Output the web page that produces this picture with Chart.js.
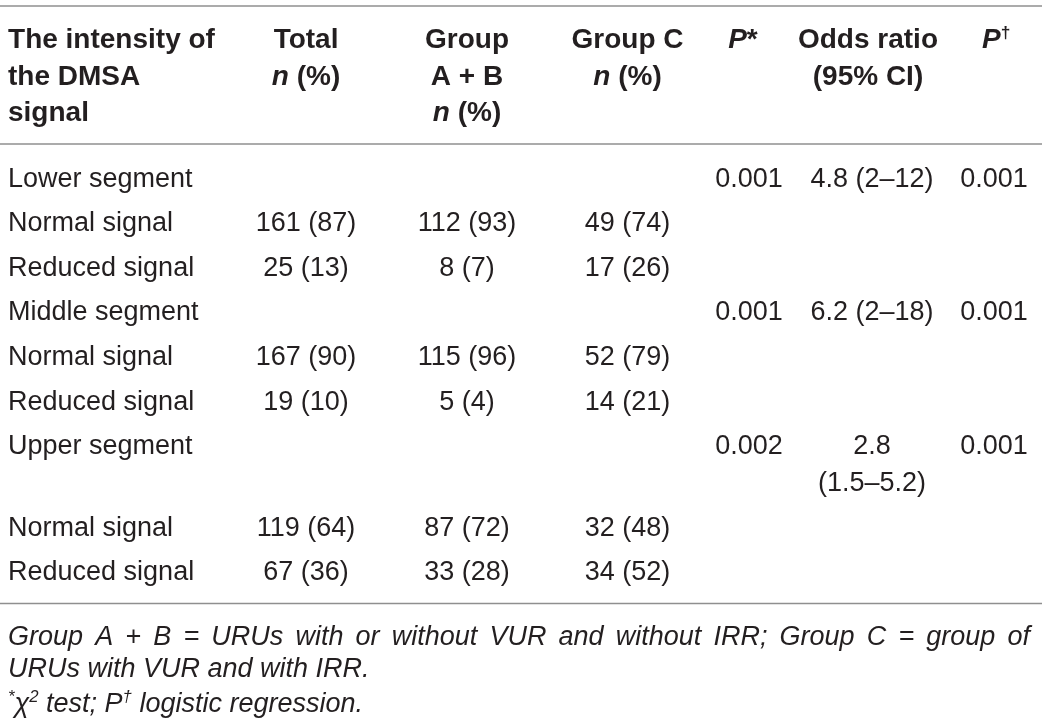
<!DOCTYPE html>
<html>
<head>
<meta charset="utf-8">
<title>Intensity of the DMSA signal by renal segment</title>
<script src="https://cdn.jsdelivr.net/npm/chart.js@4.4.1/dist/chart.umd.min.js"></script>
<style>
  html, body { margin: 0; padding: 0; background: #fff; }
  #wrap { width: 1042px; height: 725px; }
</style>
</head>
<body>
<div id="wrap"><canvas id="tableChart" width="1042" height="725"></canvas></div>
<script>
const segments = ["Lower segment", "Middle segment", "Upper segment"];
const signalLevels = ["Normal signal", "Reduced signal"];

// two values per segment: normal, reduced
const totalN = [161, 25, 167, 19, 119, 67];
const totalPct = [87, 13, 90, 10, 64, 36];
const groupAB_N = [112, 8, 115, 5, 87, 33];
const groupAB_Pct = [93, 7, 96, 4, 72, 28];
const groupC_N = [49, 17, 52, 14, 32, 34];
const groupC_Pct = [74, 26, 79, 21, 48, 52];

// one value per segment
const pChiSquare = [0.001, 0.001, 0.002];
const oddsRatio = [4.8, 6.2, 2.8];
const ciLower = [2, 2, 1.5];
const ciUpper = [12, 18, 5.2];
const pLogistic = [0.001, 0.001, 0.001];

// header lines per column (_x_ = italic, ^x = superscript)
const columnHeaders = [
  ["The intensity of", "the DMSA", "signal"],
  ["Total", "_n_ (%)"],
  ["Group", "A + B", "_n_ (%)"],
  ["Group C", "_n_ (%)"],
  ["_P_*"],
  ["Odds ratio", "(95% CI)"],
  ["_P_^\u2020"]
];

const footnotes = [
  "Group A + B = URUs with or without VUR and without IRR; Group C = group of URUs with VUR and with IRR.",
  "^*\u03C7^2 test; P^\u2020 logistic regression."
];

// ---- layout ----
const layout = {
  family: '"Liberation Sans", Arial, Helvetica, sans-serif',
  bodySize: 27,
  headSize: 28,
  noteSize: 27,
  ink: "#231f20",
  rule: "#8f8f8f",
  firstBaseline: 186.5, // px, first body row
  rowPitch: 44.6,       // px per row
  wrapPitch: 0.83,      // rows, extra line inside a cell
  colX: [0.77, 29.37, 44.82, 60.22, 71.88, 83.69, 95.39],   // % of width
  headX: [0.77, 29.37, 44.82, 60.22, 71.3, 83.3, 95.6],
  colAlign: ["left", "center", "center", "center", "center", "center", "center"],
  wrapWidth: [Infinity, Infinity, Infinity, Infinity, Infinity, 140, Infinity],
  headBaselines: [48.3, 84.8, 121.3],
  rules: [6, 144, 603.5],
  noteBaselines: [645, 677, 712],
  noteLeft: 8,
  noteWidth: 1022
};

const H = 725;
const toRows = px => (px - layout.firstBaseline) / layout.rowPitch;

// ---- build table rows ----
const fmtCount = (n, p) => n + " (" + p + ")";
const rows = [];
segments.forEach((seg, s) => {
  rows.push([seg, null, null, null,
    pChiSquare[s].toFixed(3),
    oddsRatio[s] + " (" + ciLower[s] + "\u2013" + ciUpper[s] + ")",
    pLogistic[s].toFixed(3)]);
  signalLevels.forEach((lvl, k) => {
    const i = s * 2 + k;
    rows.push([lvl,
      fmtCount(totalN[i], totalPct[i]),
      fmtCount(groupAB_N[i], groupAB_Pct[i]),
      fmtCount(groupC_N[i], groupC_Pct[i]),
      null, null, null]);
  });
});

const measureCtx = document.createElement("canvas").getContext("2d");
function bodyFont(size, italic, weight) {
  return (italic ? "italic " : "") + (weight || "normal") + " " + size + "px " + layout.family;
}

function wrapText(text, maxW) {
  measureCtx.font = bodyFont(layout.bodySize);
  if (measureCtx.measureText(text).width <= maxW) return [text];
  const words = text.split(" ");
  const lines = [];
  let cur = "";
  words.forEach(w => {
    const test = cur ? cur + " " + w : w;
    if (cur && measureCtx.measureText(test).width > maxW) {
      lines.push(cur);
      cur = w;
    } else {
      cur = test;
    }
  });
  if (cur) lines.push(cur);
  return lines;
}

// row positions, taller rows where a cell wraps
const rowPos = [];
let pos = 0;
rows.forEach((row, r) => {
  rowPos[r] = pos;
  let n = 1;
  row.forEach((txt, c) => {
    if (txt) n = Math.max(n, wrapText(txt, layout.wrapWidth[c]).length);
  });
  pos += 1 + (n - 1) * layout.wrapPitch;
});

const datasets = columnHeaders.map((h, c) => ({
  label: h.join(" "),
  align: layout.colAlign[c],
  data: rows
    .map((row, r) => row[c] ? { x: layout.colX[c], y: rowPos[r], lines: wrapText(row[c], layout.wrapWidth[c]) } : null)
    .filter(d => d),
  pointRadius: 0,
  pointHoverRadius: 0,
  showLine: false
}));

// ---- rich text helpers ----
function parseRich(str) {
  const runs = [];
  let italic = false, buf = "";
  for (let i = 0; i < str.length; i++) {
    const ch = str[i];
    if (ch === "_") {
      if (buf) runs.push({ t: buf, it: italic, sup: false });
      buf = "";
      italic = !italic;
    } else if (ch === "^") {
      if (buf) runs.push({ t: buf, it: italic, sup: false });
      buf = "";
      i++;
      runs.push({ t: str[i], it: italic, sup: true });
    } else {
      buf += ch;
    }
  }
  if (buf) runs.push({ t: buf, it: italic, sup: false });
  return runs;
}

function drawRich(ctx, str, x, y, align, base) {
  const runs = parseRich(str);
  const widths = runs.map(run => {
    ctx.font = bodyFont(run.sup ? base.size * 0.62 : base.size, base.italic || run.it, base.weight);
    return ctx.measureText(run.t).width;
  });
  const total = widths.reduce((a, b) => a + b, 0);
  let cx = align === "center" ? x - total / 2 : align === "right" ? x - total : x;
  runs.forEach((run, i) => {
    ctx.font = bodyFont(run.sup ? base.size * 0.62 : base.size, base.italic || run.it, base.weight);
    ctx.fillText(run.t, cx, run.sup ? y - base.size * 0.38 : y);
    cx += widths[i];
  });
}

function drawJustified(ctx, text, left, width, y0, pitch, base) {
  ctx.font = bodyFont(base.size, true);
  const words = text.split(" ");
  const lines = [];
  let cur = [];
  words.forEach(w => {
    const test = cur.concat(w).join(" ");
    if (cur.length && ctx.measureText(test).width > width) {
      lines.push(cur);
      cur = [w];
    } else {
      cur.push(w);
    }
  });
  if (cur.length) lines.push(cur);
  lines.forEach((ws, li) => {
    const y = y0 + li * pitch;
    const last = li === lines.length - 1;
    const wordW = ws.map(w => ctx.measureText(w).width);
    const sum = wordW.reduce((a, b) => a + b, 0);
    const gap = last || ws.length < 2 ? ctx.measureText(" ").width : (width - sum) / (ws.length - 1);
    let cx = left;
    ws.forEach((w, i) => {
      ctx.fillText(w, cx, y);
      cx += wordW[i] + gap;
    });
  });
  return lines.length;
}

const tablePlugin = {
  id: "tableText",
  afterDatasetsDraw(chart) {
    const { ctx, chartArea, scales } = chart;
    const xs = scales.x, ys = scales.y;
    const unitPx = Math.abs(ys.getPixelForValue(1) - ys.getPixelForValue(0));
    ctx.save();
    ctx.textBaseline = "alphabetic";
    ctx.fillStyle = layout.ink;

    // horizontal rules
    ctx.strokeStyle = layout.rule;
    ctx.lineWidth = 1.3;
    layout.rules.forEach(px => {
      const py = ys.getPixelForValue(toRows(px));
      ctx.beginPath();
      ctx.moveTo(chartArea.left, py);
      ctx.lineTo(chartArea.right, py);
      ctx.stroke();
    });

    // header
    const headBase = { size: layout.headSize, weight: "bold" };
    columnHeaders.forEach((lines, c) => {
      lines.forEach((txt, k) => {
        drawRich(ctx, txt, xs.getPixelForValue(layout.headX[c]),
          ys.getPixelForValue(toRows(layout.headBaselines[k])), layout.colAlign[c], headBase);
      });
    });

    // body cells at the points placed by the scales
    const cellBase = { size: layout.bodySize };
    chart.data.datasets.forEach((ds, c) => {
      const meta = chart.getDatasetMeta(c);
      meta.data.forEach((pt, j) => {
        ds.data[j].lines.forEach((ln, k) => {
          drawRich(ctx, ln, pt.x, pt.y + k * layout.wrapPitch * unitPx, ds.align, cellBase);
        });
      });
    });

    // footnotes
    const noteBase = { size: layout.noteSize, italic: true };
    const nb = layout.noteBaselines.map(px => ys.getPixelForValue(toRows(px)));
    const left = xs.getPixelForValue(layout.noteLeft / 1042 * 100);
    const used = drawJustified(ctx, footnotes[0], left, layout.noteWidth, nb[0], nb[1] - nb[0], noteBase);
    drawRich(ctx, footnotes[1], left, nb[Math.min(used, nb.length - 1)], "left", noteBase);
    ctx.restore();
  }
};

new Chart(document.getElementById("tableChart"), {
  type: "scatter",
  data: { datasets: datasets },
  options: {
    responsive: false,
    animation: false,
    events: [],
    layout: { padding: 0 },
    scales: {
      x: { type: "linear", display: false, min: 0, max: 100, bounds: "data", grace: 0 },
      y: {
        type: "linear", display: false, reverse: true, bounds: "data", grace: 0,
        min: toRows(0), max: toRows(H)
      }
    },
    plugins: { legend: { display: false }, tooltip: { enabled: false } }
  },
  plugins: [tablePlugin]
});
</script>
</body>
</html>
